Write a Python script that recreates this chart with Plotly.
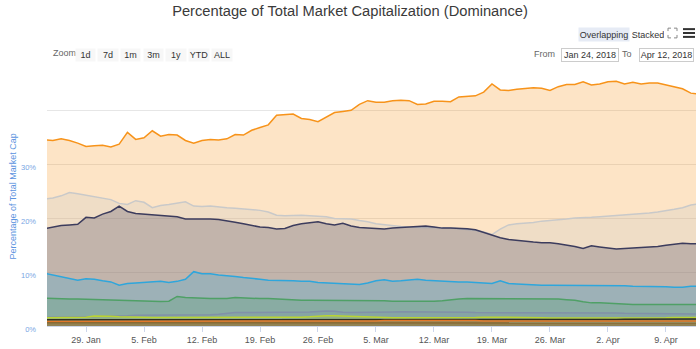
import pandas as pd
import plotly.graph_objects as go

# ---------------- data (percent of total market cap, daily from 24 Jan 2018) ----------------
start_date = "2018-01-24"
n_days = 80
dates = pd.date_range(start_date, periods=n_days, freq="D")

bitcoin = [34.6, 34.5, 34.8, 34.5, 34.0, 33.4, 33.5, 33.6, 33.3, 33.8,
           36.0, 34.7, 35.0, 36.3, 35.3, 35.6, 35.5, 34.5, 34.0, 34.5,
           34.7, 34.6, 34.8, 35.6, 35.5, 36.4, 36.9, 37.4, 39.2, 39.3,
           39.4, 38.6, 38.4, 38.0, 38.8, 39.7, 39.9, 40.1, 41.2, 41.9,
           41.6, 41.6, 41.9, 42.0, 41.9, 41.2, 41.3, 41.8, 41.8, 41.7,
           42.6, 42.7, 42.8, 43.5, 45.0, 43.9, 43.8, 44.0, 44.2, 44.3,
           44.2, 43.8, 44.5, 44.9, 44.9, 45.4, 44.8, 45.0, 45.4, 45.5,
           45.0, 45.3, 45.0, 45.2, 45.2, 44.8, 44.4, 44.1, 43.3, 43.1]

others = [23.6, 23.8, 24.2, 24.8, 24.6, 24.3, 24.0, 23.8, 23.5, 22.8,
          22.6, 23.3, 23.0, 22.0, 22.4, 22.6, 22.8, 23.1, 22.3, 22.2,
          22.3, 22.1, 22.0, 21.9, 21.8, 21.7, 21.5, 21.2, 20.6, 20.5,
          20.6, 20.6, 20.5, 20.45, 20.3, 20.0, 19.95, 19.9, 19.6, 19.4,
          19.0, 18.8, 18.6, 18.5, 18.4, 18.3, 18.3, 18.3, 18.3, 18.2,
          18.1, 18.0, 17.8, 17.5, 17.0, 18.0, 18.8, 19.0, 19.1, 19.25,
          19.5, 19.6, 19.8, 19.9, 20.1, 20.1, 20.2, 20.3, 20.4, 20.6,
          20.7, 20.8, 20.9, 21.0, 21.2, 21.4, 21.7, 22.0, 22.5, 22.7]

ethereum = [18.1, 18.4, 18.7, 18.8, 18.9, 20.2, 20.1, 20.8, 21.3, 22.3,
            21.3, 20.9, 20.8, 20.6, 20.5, 20.5, 20.3, 19.9, 19.9, 19.95,
            19.9, 19.8, 19.6, 19.3, 19.0, 18.7, 18.4, 18.3, 18.05, 18.15,
            18.7, 19.0, 19.2, 19.4, 19.0, 18.8, 19.1, 18.6, 18.3, 18.2,
            18.1, 18.05, 18.2, 18.3, 18.5, 18.6, 18.6, 18.4, 18.2, 18.2,
            18.2, 18.1, 17.9, 17.4, 16.8, 16.4, 16.1, 15.9, 15.7, 15.6,
            15.5, 15.5, 15.3, 15.1, 14.8, 14.4, 14.9, 14.7, 14.5, 14.3,
            14.4, 14.5, 14.5, 14.6, 14.8, 15.0, 15.2, 15.4, 15.3, 15.3]

ripple = [9.8, 9.5, 9.2, 8.8, 8.5, 8.8, 8.7, 8.4, 8.2, 7.6,
          7.9, 8.0, 8.1, 8.2, 8.3, 8.1, 8.3, 8.7, 10.1, 9.7,
          9.7, 9.5, 9.4, 9.2, 9.0, 8.9, 8.7, 8.5, 8.5, 8.4,
          8.4, 8.3, 8.3, 8.1, 8.0, 7.9, 7.8, 7.7, 7.7, 8.0,
          8.4, 8.6, 8.3, 8.4, 8.6, 8.7, 8.5, 8.4, 8.3, 8.3,
          8.2, 8.2, 8.1, 8.0, 7.9, 8.4, 7.9, 7.8, 7.7, 7.7,
          7.6, 7.6, 7.6, 7.5, 7.5, 7.5, 7.6, 7.5, 7.5, 7.5,
          7.5, 7.4, 7.4, 7.3, 7.3, 7.3, 7.2, 7.2, 7.4, 7.4]

bitcoin_cash = [5.2, 5.1, 5.1, 5.0, 5.0, 4.95, 4.9, 4.8, 4.8, 4.75,
                4.7, 4.65, 4.65, 4.6, 4.55, 4.6, 5.5, 5.3, 5.2, 5.1,
                5.1, 5.1, 5.1, 5.3, 5.2, 5.2, 5.1, 5.1, 5.0, 5.0,
                4.9, 4.8, 4.8, 4.8, 4.8, 4.8, 4.8, 4.8, 4.8, 4.8,
                4.7, 4.7, 4.6, 4.6, 4.5, 4.5, 4.5, 4.6, 4.7, 4.9,
                5.0, 5.1, 5.1, 5.1, 5.1, 5.1, 5.1, 5.1, 5.1, 5.1,
                5.1, 5.1, 5.0, 4.9, 4.8, 4.5, 4.3, 4.3, 4.2, 4.1,
                4.1, 4.0, 4.0, 4.0, 4.0, 4.0, 4.0, 4.0, 4.0, 4.0]

litecoin = [1.6, 1.6, 1.6, 1.6, 1.6, 1.7, 1.7, 1.8, 1.8, 1.8,
            1.9, 2.0, 2.0, 2.05, 2.05, 2.05, 2.05, 2.05, 2.0, 2.05,
            2.1, 2.2, 2.4, 2.5, 2.5, 2.5, 2.5, 2.5, 2.55, 2.55,
            2.55, 2.6, 2.6, 2.7, 2.8, 2.75, 2.55, 2.5, 2.5, 2.5,
            2.55, 2.6, 2.6, 2.65, 2.65, 2.65, 2.6, 2.6, 2.6, 2.6,
            2.6, 2.55, 2.5, 2.5, 2.5, 2.5, 2.5, 2.5, 2.5, 2.5,
            2.5, 2.5, 2.45, 2.45, 2.4, 2.4, 2.4, 2.4, 2.4, 2.4,
            2.35, 2.35, 2.35, 2.35, 2.3, 2.3, 2.3, 2.25, 2.25, 2.25]

cardano = [1.55, 1.55, 1.55, 1.6, 1.6, 1.65, 1.85, 1.85, 1.8, 1.7,
           1.65, 1.6, 1.6, 1.6, 1.6, 1.6, 1.55, 1.55, 1.55, 1.55,
           1.55, 1.55, 1.55, 1.55, 1.6, 1.6, 1.6, 1.6, 1.6, 1.6,
           1.6, 1.65, 1.7, 1.85, 1.9, 1.9, 1.85, 1.7, 1.65, 1.6,
           1.6, 1.6, 1.55, 1.55, 1.55, 1.55, 1.55, 1.5, 1.5, 1.5,
           1.5, 1.55, 1.6, 1.65, 1.65, 1.6, 1.6, 1.6, 1.55, 1.55,
           1.55, 1.5, 1.5, 1.5, 1.5, 1.5, 1.45, 1.45, 1.45, 1.45,
           1.45, 1.45, 1.5, 1.5, 1.55, 1.55, 1.6, 1.6, 1.6, 1.6]

eos = [1.15, 1.15, 1.15, 1.15, 1.1, 1.1, 1.1, 1.1, 1.1, 1.1,
       1.1, 1.1, 1.15, 1.15, 1.15, 1.15, 1.15, 1.15, 1.15, 1.15,
       1.15, 1.15, 1.2, 1.2, 1.2, 1.2, 1.2, 1.2, 1.2, 1.15,
       1.15, 1.15, 1.15, 1.15, 1.15, 1.15, 1.15, 1.15, 1.15, 1.15,
       1.15, 1.15, 1.15, 1.15, 1.1, 1.1, 1.1, 1.1, 1.1, 1.1,
       1.1, 1.1, 1.1, 1.15, 1.15, 1.2, 1.2, 1.2, 1.2, 1.2,
       1.2, 1.2, 1.2, 1.2, 1.2, 1.2, 1.2, 1.2, 1.2, 1.2,
       1.25, 1.25, 1.25, 1.25, 1.3, 1.3, 1.3, 1.3, 1.3, 1.3]

stellar = [0.85, 0.85, 0.85, 0.85, 0.85, 0.85, 0.85, 0.85, 0.85, 0.85,
           0.85, 0.85, 0.85, 0.85, 0.85, 0.85, 0.9, 0.9, 0.9, 0.9,
           0.9, 0.9, 0.9, 0.9, 0.9, 0.9, 0.9, 0.9, 0.9, 0.9,
           0.9, 0.9, 0.9, 0.9, 0.9, 0.9, 0.9, 0.9, 0.9, 0.95,
           0.95, 1.0, 1.0, 1.05, 1.1, 1.1, 1.1, 1.1, 1.05, 1.05,
           1.05, 1.0, 1.0, 0.95, 0.95, 0.95, 0.9, 0.9, 0.9, 0.9,
           0.9, 0.9, 0.9, 0.9, 0.9, 0.9, 0.9, 0.9, 0.9, 0.9,
           0.9, 0.9, 0.9, 0.9, 0.9, 0.9, 0.95, 0.95, 0.95, 0.95]

neo = [0.6, 0.6, 0.6, 0.6, 0.6, 0.6, 0.6, 0.6, 0.6, 0.6,
       0.6, 0.6, 0.6, 0.6, 0.6, 0.6, 0.6, 0.6, 0.6, 0.6,
       0.6, 0.6, 0.6, 0.6, 0.6, 0.6, 0.6, 0.6, 0.6, 0.6,
       0.6, 0.6, 0.6, 0.6, 0.6, 0.6, 0.6, 0.6, 0.6, 0.6,
       0.6, 0.6, 0.6, 0.6, 0.6, 0.6, 0.6, 0.6, 0.6, 0.6,
       0.55, 0.55, 0.55, 0.55, 0.55, 0.55, 0.55, 0.55, 0.55, 0.55,
       0.55, 0.55, 0.55, 0.55, 0.55, 0.55, 0.55, 0.55, 0.55, 0.55,
       0.55, 0.55, 0.55, 0.55, 0.55, 0.55, 0.55, 0.55, 0.55, 0.55]

series_names = ["Bitcoin", "Others", "Ethereum", "Ripple", "Bitcoin Cash",
                "Litecoin", "Cardano", "EOS", "Stellar", "NEO"]
series_values = [bitcoin, others, ethereum, ripple, bitcoin_cash,
                 litecoin, cardano, eos, stellar, neo]
series_colors = ["#f7931a", "#c9c9c9", "#3c3c5d", "#2ea6dc", "#4fa066",
                 "#8191a8", "#b9d432", "#2f2f22", "#e2782a", "#8a6a33"]

y_tick_vals = [0, 10, 20, 30, 40]
y_tick_text = ["0%", "10%", "20%", "30%", ""]
zoom_labels = ["1d", "7d", "1m", "3m", "1y", "YTD", "ALL"]
from_label = "Jan 24, 2018"
to_label = "Apr 12, 2018"
x_range = ["2018-01-24 07:00", "2018-04-12 15:00"]

# ---------------- figure ----------------
W, H = 700, 349
ML, MR, MT, MB = 47, 4, 70, 16
PW, PH = W - ML - MR, H - MT - MB
Y_TOP = (333 - MT) / 5.525


def px(x):
    return (x - ML) / PW


def py(y):
    return (H - MB - y) / PH


def rgba(hex_color, a):
    h = hex_color.lstrip("#")
    r, g, b = int(h[0:2], 16), int(h[2:4], 16), int(h[4:6], 16)
    return f"rgba({r},{g},{b},{a})"


fig = go.Figure()
for name, vals, col in zip(series_names, series_values, series_colors):
    fig.add_trace(go.Scatter(
        x=dates, y=vals, name=name, mode="lines",
        line=dict(color=col, width=1.5),
        fill="tozeroy", fillcolor=rgba(col, 0.25),
        hovertemplate="%{y:.2f}%<extra>" + name + "</extra>",
    ))

fig.update_layout(
    width=W, height=H,
    margin=dict(l=ML, r=MR, t=MT, b=MB),
    paper_bgcolor="white", plot_bgcolor="white",
    showlegend=False,
    font=dict(family="Liberation Sans, Arial, sans-serif", color="#333333"),
    title=dict(text="Percentage of Total Market Capitalization (Dominance)",
               x=0.5, xanchor="center", y=1 - 11 / H, yanchor="middle",
               yref="container",
               font=dict(size=14.7, color="#3a3a3a",
                         family="Liberation Sans, Arial, sans-serif")),
    xaxis=dict(
        type="date", range=x_range,
        tick0="2018-01-29", dtick=7 * 86400000, tickformat="%-d. %b",
        ticks="outside", ticklen=5, tickcolor="#ccd6eb",
        showline=True, linecolor="#ccd6eb", linewidth=1,
        showgrid=False, zeroline=False,
        tickfont=dict(size=9, color="#555555"),
    ),
    yaxis=dict(
        range=[0, Y_TOP],
        tickvals=y_tick_vals, ticktext=y_tick_text,
        showgrid=True, gridcolor="#e6e6e6", gridwidth=1,
        zeroline=False, showline=False, ticks="",
        tickfont=dict(size=7.5, color="#78a6e4"),
        ticklabelstandoff=10, ticklabelshift=3,
    ),
)

annotations = []
shapes = []

# y axis title
annotations.append(dict(text="Percentage of Total Market Cap", x=px(13), y=py(200),
                        xref="paper", yref="paper", xanchor="center", yanchor="middle",
                        textangle=-90, showarrow=False,
                        font=dict(size=9, color="#5b93e0")))

# Zoom row
annotations.append(dict(text="Zoom", x=px(51), y=py(53), xref="paper", yref="paper",
                        xanchor="left", yanchor="middle", showarrow=False,
                        font=dict(size=9, color="#666666")))
btn_x = [75, 97, 120, 143, 165, 188, 211]
btn_w = [19, 20, 19, 19, 20, 20, 20]
for lbl, bx, bw in zip(zoom_labels, btn_x, btn_w):
    annotations.append(dict(text=lbl, x=px(bx), y=py(47), xref="paper", yref="paper",
                            xanchor="left", yanchor="top", showarrow=False,
                            width=bw, height=12, bgcolor="#f7f7f7", borderpad=0,
                            align="center", valign="middle",
                            font=dict(size=9, color="#333333")))

# Overlapping / Stacked
annotations.append(dict(text="Overlapping", x=px(578), y=py(26), xref="paper", yref="paper",
                        xanchor="left", yanchor="top", showarrow=False,
                        width=50, height=13, bgcolor="#e6ebf5", borderpad=0,
                        align="center", valign="middle",
                        font=dict(size=9, color="#333333")))
annotations.append(dict(text="Stacked", x=px(631), y=py(26), xref="paper", yref="paper",
                        xanchor="left", yanchor="top", showarrow=False,
                        width=32, height=13, borderpad=0, align="center", valign="middle",
                        font=dict(size=9, color="#333333")))

# From / To
annotations.append(dict(text="From", x=px(557), y=py(53.5), xref="paper", yref="paper",
                        xanchor="right", yanchor="middle", showarrow=False,
                        font=dict(size=9, color="#666666")))
annotations.append(dict(text=from_label, x=px(561), y=py(47), xref="paper", yref="paper",
                        xanchor="left", yanchor="top", showarrow=False,
                        width=56, height=12, bgcolor="white", bordercolor="#cccccc",
                        borderwidth=1, borderpad=0, align="center", valign="middle",
                        font=dict(size=9, color="#333333")))
annotations.append(dict(text="To", x=px(634), y=py(53.5), xref="paper", yref="paper",
                        xanchor="right", yanchor="middle", showarrow=False,
                        font=dict(size=9, color="#666666")))
annotations.append(dict(text=to_label, x=px(639), y=py(47), xref="paper", yref="paper",
                        xanchor="left", yanchor="top", showarrow=False,
                        width=53, height=12, bgcolor="white", bordercolor="#cccccc",
                        borderwidth=1, borderpad=0, align="center", valign="middle",
                        font=dict(size=9, color="#333333")))

# fullscreen icon (four corners)
ic = "#888888"
for (x0, y0, dx, dy) in [(668, 27, 1, 1), (677, 27, -1, 1), (668, 37, 1, -1), (677, 37, -1, -1)]:
    path = (f"M {px(x0 + 3 * dx)},{py(y0)} L {px(x0)},{py(y0)} "
            f"L {px(x0)},{py(y0 + 3 * dy)}")
    shapes.append(dict(type="path", path=path, xref="paper", yref="paper",
                       line=dict(color=ic, width=1)))
# hamburger
for yy in [28, 32, 36]:
    shapes.append(dict(type="line", x0=px(683), x1=px(695), y0=py(yy), y1=py(yy),
                       xref="paper", yref="paper", line=dict(color="#333333", width=2)))

fig.update_layout(annotations=annotations, shapes=shapes)

fig.write_html("out.html")
